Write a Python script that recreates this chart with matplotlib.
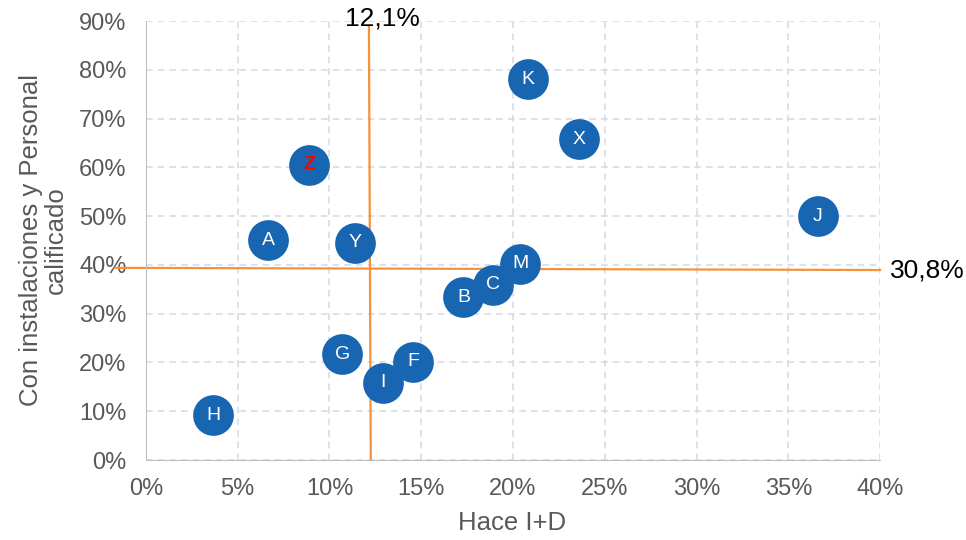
import matplotlib.pyplot as plt
from matplotlib.ticker import FuncFormatter

# Dades llegides del gràfic (en %)
names = ["K", "X", "J", "Z", "A", "Y", "M", "C", "B", "G", "F", "I", "H"]
x_vals = [20.8, 23.6, 36.6, 8.9, 6.65, 11.4, 20.4, 18.9, 17.3, 10.7, 14.55, 12.9, 3.65]
y_vals = [78.1, 65.8, 50.0, 60.5, 45.1, 44.5, 40.2, 35.9, 33.4, 21.7, 20.1, 15.8, 9.2]

# Línies de referència
vline_x = [12.15, 12.25]
vline_y = [89.0, 0.0]
hline_x = [-1.7, 40.0]
hline_y = [39.4, 38.95]
vline_label = "12,1%"
hline_label = "30,8%"

x_ticks = [0, 5, 10, 15, 20, 25, 30, 35, 40]
y_ticks = [0, 10, 20, 30, 40, 50, 60, 70, 80, 90]

plt.rcParams['font.family'] = ['Liberation Sans', 'DejaVu Sans']

fig = plt.figure(figsize=(9.66, 5.4), dpi=100)
ax = fig.add_axes([0.1511, 0.1481, 0.911 - 0.1511, 0.9611 - 0.1481])

blue = "#1866b2"
orange = "#f5923e"
grid_color = "#d5dbe6"
text_gray = "#595959"

ax.set_xlim(0, 40)
ax.set_ylim(0, 90)
ax.set_xticks(x_ticks)
ax.set_yticks(y_ticks)
ax.xaxis.set_major_formatter(FuncFormatter(lambda v, p: "%d%%" % v))
ax.yaxis.set_major_formatter(FuncFormatter(lambda v, p: "%d%%" % v))
ax.tick_params(length=0, labelsize=17, labelcolor=text_gray)
ax.tick_params(axis="x", pad=13)
ax.tick_params(axis="y", pad=14)

ax.grid(True, color=grid_color, linestyle=(0, (4, 3)), linewidth=1.2)
ax.set_axisbelow(True)
ax.spines["top"].set_visible(False)
ax.spines["right"].set_visible(False)
ax.spines["left"].set_color("#c0c0c0")
ax.spines["bottom"].set_color("#c0c0c0")

# Línies taronja
ax.plot(vline_x, vline_y, color=orange, linewidth=1.6, clip_on=False, zorder=2)
ax.plot(hline_x, hline_y, color=orange, linewidth=1.6, clip_on=False, zorder=2)
ax.text(12.86, 90.6, vline_label, fontsize=19,
        ha="center", va="center", color="black")
ax.text(hline_x[1] + 0.55, hline_y[1], hline_label, fontsize=19,
        ha="left", va="center", color="black")

# Punts
ax.scatter(x_vals, y_vals, s=860, color=blue, zorder=3, linewidths=0)
i = 0
while i < len(names):
    if names[i] == "Z":
        ax.text(x_vals[i], y_vals[i], names[i], color="red", fontsize=14,
                fontweight="bold", ha="center", va="center", zorder=4)
    else:
        ax.text(x_vals[i], y_vals[i], names[i], color="white", fontsize=14,
                ha="center", va="center", zorder=4)
    i = i + 1

fig.text(512 / 966, 1 - 523 / 540, "Hace I+D", fontsize=18.5, color=text_gray,
         ha="center", va="center")
fig.text(43 / 966, 1 - 240 / 540, "Con instalaciones y Personal\ncalificado",
         fontsize=18.5, color=text_gray, rotation=90, ha="center", va="center",
         multialignment="center", linespacing=1.05)

fig.savefig("out.png", dpi=100)
